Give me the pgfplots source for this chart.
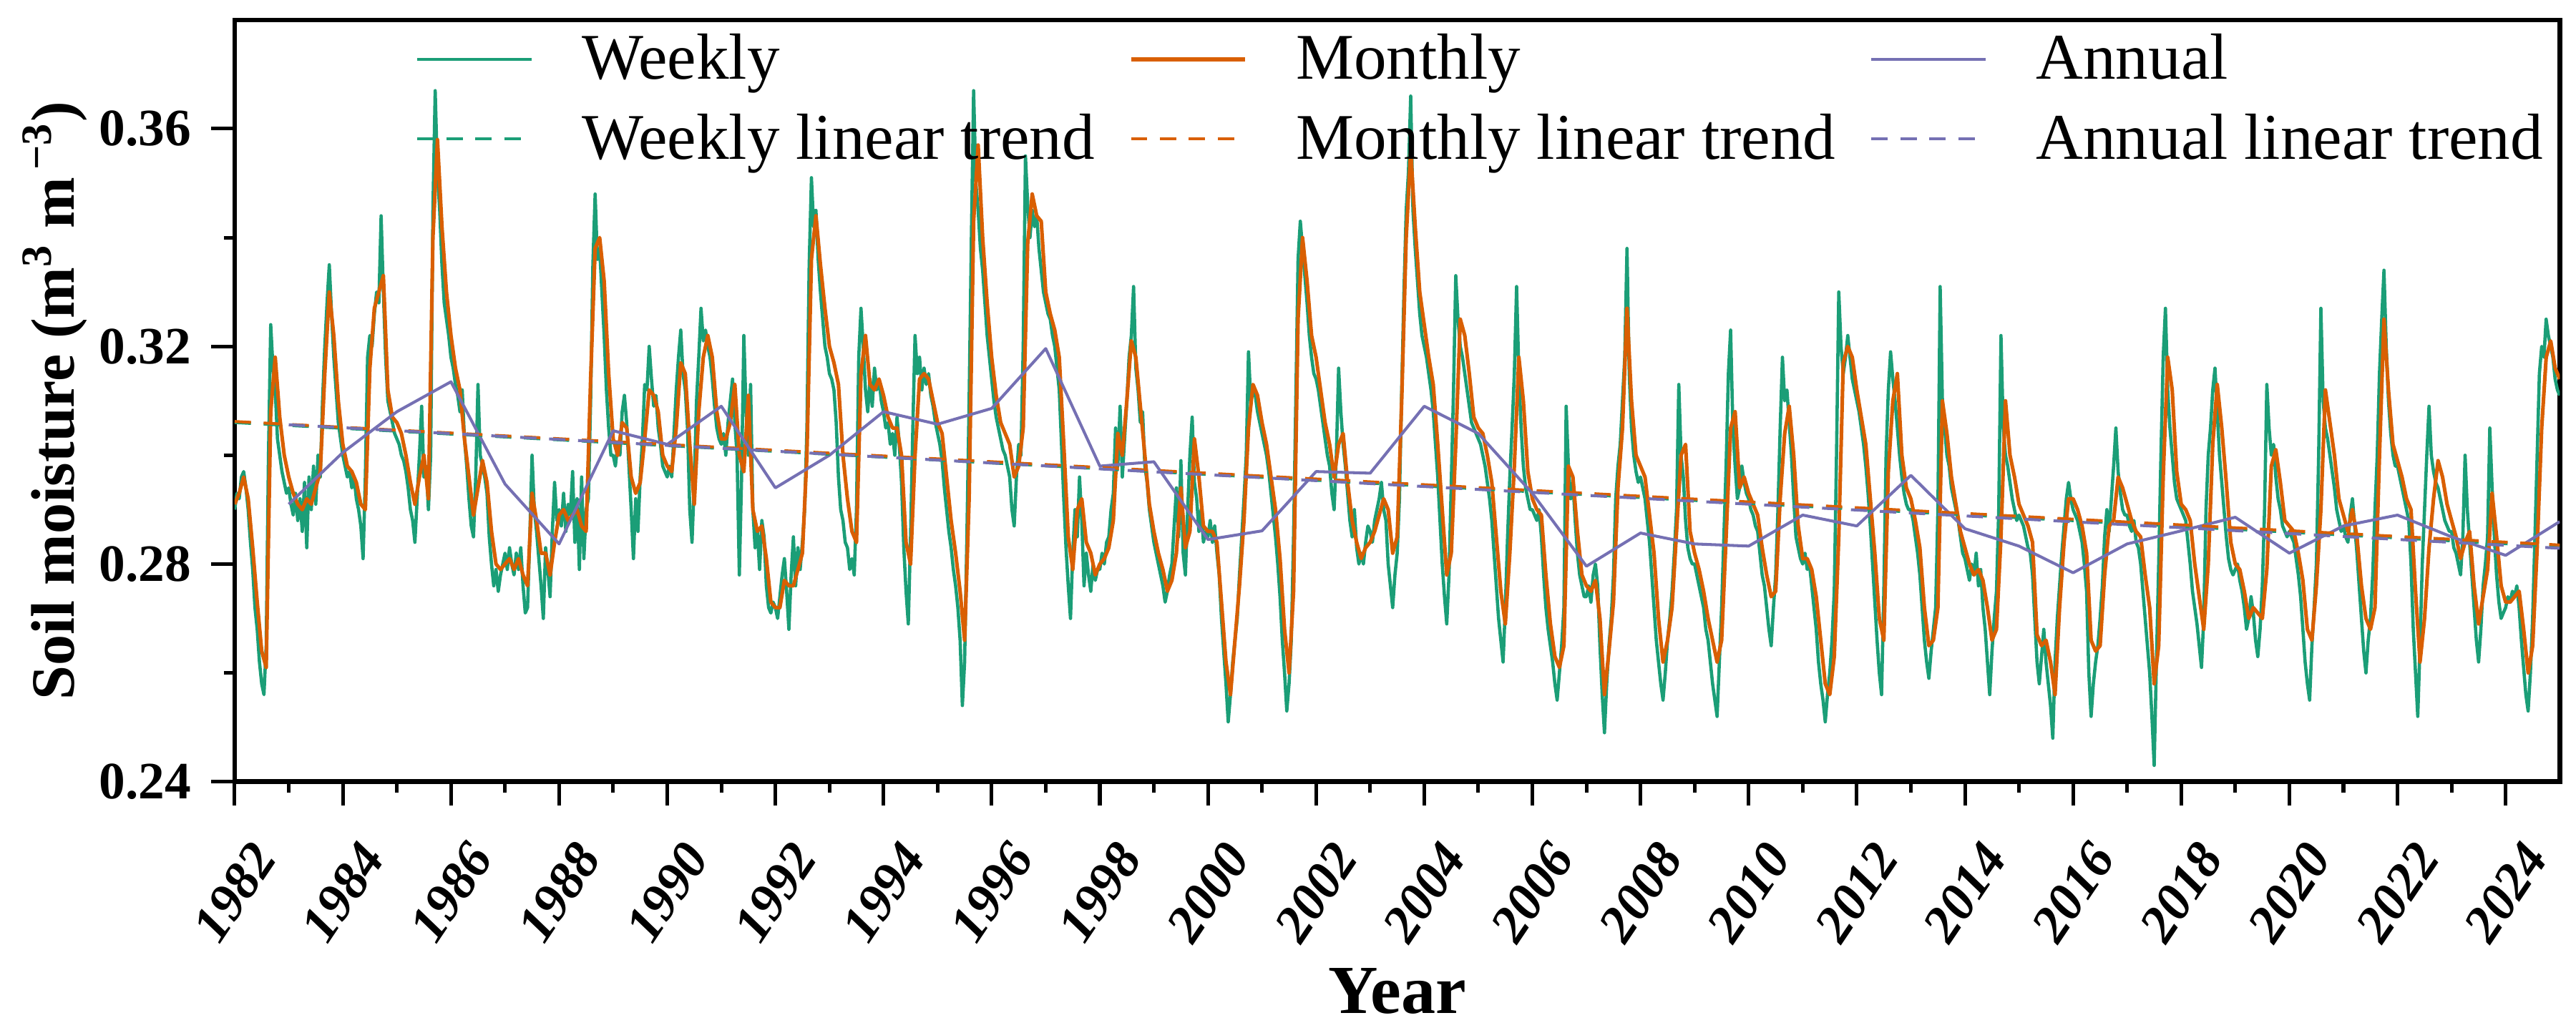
\documentclass[border=0pt]{standalone}
\usepackage{fontspec}
\setmainfont{Liberation Serif}
\usepackage{pgfplots}
\pgfplotsset{compat=1.18}
\usepackage{pgfplotstable}
\definecolor{cW}{HTML}{1B9E77}
\definecolor{cM}{HTML}{D95F02}
\definecolor{cA}{HTML}{7570B3}
\pgfplotsset{legline/.style={legend image code/.code={\draw[##1] (0pt,0pt) -- (31.5pt,0pt);}}}

% weekly series (24 values per year, 1982-2024, plus 2025.0), units of 0.001 m3/m3
\pgfplotstableread[header=false,row sep=\\]{
290\\293\\292\\296\\297\\294\\290\\284\\279\\272\\268\\262\\258\\256\\265\\300\\324\\316\\312\\303\\300\\297\\295\\293\\
294\\291\\289\\293\\288\\292\\286\\295\\283\\296\\290\\298\\291\\300\\296\\310\\320\\328\\335\\326\\318\\312\\306\\303\\
300\\298\\296\\297\\294\\296\\292\\290\\287\\281\\296\\318\\322\\320\\326\\330\\328\\344\\330\\318\\310\\308\\306\\304\\
303\\302\\300\\299\\297\\294\\290\\288\\284\\292\\300\\309\\296\\298\\290\\300\\345\\367\\352\\345\\335\\328\\325\\322\\
318\\316\\313\\311\\308\\312\\303\\298\\292\\287\\285\\296\\313\\300\\298\\296\\293\\285\\280\\276\\279\\275\\278\\280\\
282\\279\\283\\280\\278\\282\\279\\283\\276\\271\\272\\285\\300\\290\\286\\281\\276\\270\\283\\279\\274\\286\\295\\288\\
290\\287\\293\\286\\291\\289\\297\\284\\292\\279\\296\\281\\290\\292\\310\\335\\348\\336\\338\\330\\322\\312\\305\\300\\
300\\298\\302\\300\\308\\311\\306\\298\\290\\281\\292\\286\\296\\303\\313\\312\\320\\314\\309\\311\\305\\302\\298\\297\\
296\\298\\296\\304\\312\\318\\323\\315\\312\\305\\290\\284\\295\\310\\318\\327\\321\\323\\320\\318\\314\\309\\305\\303\\
302\\304\\300\\306\\310\\314\\306\\300\\278\\296\\322\\308\\300\\313\\290\\283\\286\\279\\288\\285\\276\\272\\271\\273\\
272\\270\\274\\278\\281\\275\\268\\278\\285\\276\\283\\279\\284\\290\\305\\335\\351\\342\\345\\336\\330\\325\\320\\318\\
315\\314\\312\\306\\296\\290\\288\\284\\283\\279\\281\\278\\290\\318\\327\\320\\312\\308\\314\\309\\316\\312\\314\\310\\
308\\305\\306\\302\\304\\300\\307\\302\\295\\283\\275\\269\\285\\305\\322\\315\\318\\312\\316\\313\\315\\311\\309\\306\\
304\\302\\299\\294\\290\\286\\283\\279\\276\\272\\266\\254\\262\\285\\310\\340\\367\\350\\345\\338\\334\\328\\322\\318\\
314\\310\\307\\305\\303\\301\\300\\298\\296\\290\\287\\296\\302\\300\\320\\355\\346\\340\\345\\342\\344\\338\\334\\330\\
328\\326\\325\\322\\320\\316\\312\\302\\292\\283\\276\\270\\282\\290\\285\\296\\288\\276\\282\\278\\275\\280\\277\\279\\
279\\282\\280\\284\\285\\290\\293\\305\\298\\309\\296\\303\\310\\318\\322\\331\\316\\312\\306\\308\\298\\295\\290\\287\\
284\\282\\280\\278\\276\\273\\275\\278\\280\\287\\294\\285\\299\\282\\278\\290\\300\\307\\295\\292\\286\\290\\284\\286\\
285\\288\\284\\287\\282\\278\\270\\264\\258\\251\\256\\262\\266\\270\\278\\285\\292\\300\\319\\310\\312\\311\\308\\306\\
304\\302\\300\\297\\293\\289\\285\\280\\274\\266\\260\\253\\258\\266\\285\\310\\336\\343\\338\\333\\328\\322\\318\\315\\
314\\312\\309\\306\\303\\300\\298\\293\\290\\300\\316\\308\\302\\298\\293\\288\\285\\290\\283\\280\\282\\280\\284\\287\\
286\\284\\288\\290\\292\\295\\290\\288\\280\\276\\272\\278\\282\\292\\312\\330\\345\\352\\366\\345\\338\\332\\326\\322\\
320\\318\\315\\312\\308\\302\\296\\288\\280\\274\\269\\278\\295\\312\\333\\325\\320\\318\\315\\312\\309\\306\\305\\304\\
303\\302\\300\\298\\295\\292\\288\\282\\276\\270\\266\\262\\272\\285\\296\\305\\315\\331\\315\\305\\298\\294\\292\\290\\
290\\289\\288\\290\\285\\278\\272\\268\\265\\262\\258\\255\\260\\265\\272\\309\\298\\292\\295\\288\\282\\278\\276\\274\\
274\\276\\273\\278\\280\\276\\265\\256\\249\\258\\265\\270\\278\\292\\298\\302\\310\\318\\338\\315\\305\\300\\297\\295\\
296\\294\\292\\288\\284\\278\\272\\266\\262\\258\\255\\260\\266\\270\\275\\282\\290\\313\\300\\296\\288\\283\\281\\280\\
280\\278\\276\\274\\272\\268\\266\\262\\258\\255\\252\\262\\272\\285\\298\\315\\323\\305\\298\\292\\294\\298\\295\\293\\
292\\290\\289\\287\\286\\282\\278\\276\\272\\268\\265\\272\\278\\290\\305\\318\\310\\312\\306\\300\\292\\285\\283\\281\\
280\\282\\279\\280\\276\\272\\268\\262\\258\\255\\251\\256\\260\\266\\275\\300\\330\\320\\315\\318\\322\\318\\314\\312\\
310\\308\\305\\302\\298\\293\\287\\280\\273\\266\\260\\256\\275\\300\\312\\319\\314\\310\\305\\300\\296\\293\\291\\290\\
290\\288\\285\\282\\278\\272\\266\\262\\259\\264\\268\\272\\290\\331\\310\\305\\300\\298\\294\\292\\290\\288\\285\\282\\
281\\279\\277\\280\\278\\282\\276\\279\\272\\268\\262\\256\\264\\270\\275\\290\\322\\305\\300\\298\\295\\292\\290\\288\\
289\\288\\287\\285\\283\\282\\278\\270\\262\\258\\263\\268\\262\\258\\254\\248\\262\\270\\276\\282\\287\\292\\295\\292\\
290\\289\\288\\286\\284\\280\\275\\260\\252\\258\\262\\265\\270\\276\\285\\290\\286\\292\\298\\305\\297\\293\\290\\289\\
289\\287\\286\\288\\284\\283\\280\\275\\270\\265\\260\\252\\243\\262\\280\\300\\318\\327\\312\\305\\300\\295\\292\\291\\
290\\289\\288\\284\\280\\275\\272\\269\\265\\261\\270\\290\\300\\305\\312\\316\\308\\300\\295\\290\\285\\281\\279\\278\\
279\\280\\277\\275\\272\\268\\270\\274\\271\\266\\263\\268\\276\\290\\313\\305\\300\\302\\296\\292\\290\\287\\286\\285\\
286\\285\\284\\281\\278\\274\\268\\262\\258\\255\\265\\272\\280\\300\\327\\310\\305\\303\\300\\297\\294\\290\\288\\286\\
287\\285\\284\\289\\292\\287\\282\\276\\270\\264\\260\\266\\270\\278\\290\\300\\315\\325\\334\\320\\310\\304\\300\\298\\
298\\296\\294\\292\\290\\288\\280\\268\\260\\252\\265\\280\\290\\300\\309\\300\\297\\295\\294\\292\\290\\288\\287\\286\\
286\\283\\282\\280\\278\\285\\300\\290\\284\\278\\272\\266\\262\\268\\276\\280\\285\\305\\294\\285\\278\\273\\270\\271\\
272\\274\\273\\275\\274\\276\\272\\266\\261\\256\\253\\260\\270\\285\\300\\315\\320\\318\\325\\322\\320\\318\\314\\312\\
311\\
}\weeklytab

% monthly series (12 values per year, 1982-2024, plus 2025.0)
\pgfplotstableread[header=false,row sep=\\]{
291\\293\\296\\292\\283\\273\\264\\261\\308\\318\\307\\300\\
296\\293\\291\\290\\292\\291\\294\\297\\315\\330\\322\\310\\
302\\298\\297\\295\\291\\290\\316\\327\\330\\333\\312\\307\\
306\\304\\300\\295\\291\\296\\300\\292\\340\\358\\342\\330\\
322\\316\\312\\303\\296\\289\\294\\299\\295\\286\\280\\279\\
280\\281\\279\\281\\278\\276\\293\\288\\282\\282\\278\\284\\
289\\290\\288\\289\\290\\287\\286\\314\\338\\340\\332\\315\\
303\\300\\306\\305\\296\\293\\295\\303\\312\\311\\308\\300\\
298\\297\\305\\317\\315\\302\\291\\308\\318\\322\\318\\308\\
303\\303\\306\\313\\300\\297\\311\\290\\286\\287\\281\\273\\
272\\272\\277\\276\\276\\279\\282\\300\\336\\344\\335\\327\\
320\\317\\313\\300\\292\\286\\284\\315\\322\\313\\312\\314\\
311\\307\\305\\305\\300\\284\\280\\300\\314\\315\\314\\310\\
306\\304\\296\\288\\282\\275\\266\\292\\343\\357\\340\\328\\
318\\311\\306\\304\\302\\296\\298\\305\\339\\348\\344\\343\\
330\\326\\323\\318\\302\\285\\279\\290\\292\\284\\282\\278\\
280\\281\\283\\288\\304\\300\\310\\321\\318\\309\\300\\291\\
286\\282\\279\\275\\277\\282\\294\\283\\286\\303\\296\\287\\
286\\286\\284\\273\\262\\256\\266\\276\\288\\305\\313\\311\\
306\\302\\296\\290\\281\\268\\260\\275\\325\\340\\332\\322\\
318\\312\\306\\302\\296\\302\\304\\295\\288\\284\\281\\283\\
284\\286\\289\\292\\290\\282\\285\\310\\340\\356\\342\\330\\
324\\318\\313\\302\\290\\278\\282\\302\\325\\322\\315\\307\\
305\\304\\300\\295\\285\\275\\269\\282\\298\\318\\310\\297\\
292\\290\\289\\278\\269\\263\\261\\265\\298\\296\\286\\278\\
276\\275\\277\\270\\256\\264\\273\\294\\305\\327\\310\\300\\
298\\296\\289\\282\\270\\262\\266\\272\\286\\300\\302\\286\\
282\\279\\275\\270\\266\\262\\266\\285\\305\\308\\294\\296\\
293\\291\\289\\283\\278\\274\\275\\292\\304\\309\\300\\287\\
281\\281\\279\\274\\266\\258\\256\\263\\285\\317\\320\\318\\
312\\307\\302\\292\\282\\270\\266\\297\\310\\315\\300\\294\\
292\\288\\283\\272\\265\\266\\272\\310\\304\\296\\291\\286\\
283\\280\\278\\279\\277\\272\\266\\268\\285\\310\\300\\296\\
291\\289\\287\\284\\267\\265\\266\\262\\256\\272\\284\\292\\
292\\290\\287\\282\\266\\264\\265\\278\\287\\288\\296\\294\\
291\\288\\286\\285\\278\\272\\258\\265\\296\\318\\312\\297\\
291\\290\\288\\280\\274\\268\\280\\302\\313\\305\\295\\284\\
280\\279\\275\\270\\272\\271\\270\\279\\298\\301\\295\\288\\
287\\286\\282\\277\\268\\266\\276\\290\\312\\306\\300\\292\\
289\\286\\290\\285\\276\\270\\268\\272\\300\\325\\312\\302\\
299\\296\\292\\290\\275\\262\\270\\283\\292\\299\\296\\291\\
288\\285\\281\\284\\286\\276\\269\\274\\279\\293\\285\\276\\
273\\273\\274\\275\\268\\260\\265\\283\\305\\318\\321\\316\\
314\\
}\monthlytab

\begin{document}
\begin{tikzpicture}
\useasboundingbox (-64.8pt,-68pt) rectangle (646.5pt,215.9pt);
\begin{axis}[
  scale only axis, width=642pt, height=210.4pt,
  xmin=1982, xmax=2025, ymin=240, ymax=380,
  axis line style={line width=1.3pt},
  xtick={1982,1984,1986,1988,1990,1992,1994,1996,1998,2000,2002,2004,2006,2008,2010,2012,2014,2016,2018,2020,2022,2024},
  xticklabels={1982,1984,1986,1988,1990,1992,1994,1996,1998,2000,2002,2004,2006,2008,2010,2012,2014,2016,2018,2020,2022,2024},
  minor xtick={1983,1985,1987,1989,1991,1993,1995,1997,1999,2001,2003,2005,2007,2009,2011,2013,2015,2017,2019,2021,2023},
  ytick={240,280,320,360}, yticklabels={0.24,0.28,0.32,0.36},
  minor ytick={260,300,340},
  tick align=outside, xtick pos=bottom, ytick pos=left,
  major tick length=6.5pt, minor tick length=3pt,
  every tick/.style={black, line width=1pt},
  /pgf/number format/assume math mode=true,
  yticklabel style={font=\fontsize{14.5}{16}\selectfont\bfseries, anchor=east, inner sep=0pt},
  yticklabel shift=5.3pt,
  xticklabel style={font=\fontsize{14.5}{16}\selectfont\bfseries\itshape, anchor=center, rotate=56, inner sep=0pt},
  xticklabel shift=24pt,
  xlabel={Year},
  every axis x label/.style={at={(axis description cs:0.5,0)}, anchor=base, yshift=-64pt, font=\fontsize{19}{22}\selectfont\bfseries},
  ylabel={Soil moisture (m\textsuperscript{3} m\textsuperscript{\,−3})},
  every axis y label/.style={at={(axis description cs:-0.0692,0.5)}, anchor=base, rotate=90, font=\fontsize{17}{20}\selectfont\bfseries},
  legline,
  legend columns=3,
  legend cell align=left,
  legend style={at={(1,1)}, anchor=north east, xshift=-4.6pt, yshift=-3.9pt,
    draw=none, fill=none, inner sep=0pt, outer sep=0pt,
    font=\fontsize{18}{21}\selectfont, row sep=8pt,
    nodes={inner sep=0pt},
    /tikz/every odd column/.append style={column sep=13.6pt},
    /tikz/every even column/.append style={column sep=9.5pt}},
]
\addplot[cW, line width=0.9pt, line join=round] table[x expr=1982+\coordindex/24, y index=0] {\weeklytab};
\addlegendentry{Weekly}
\addplot[cM, line width=1pt, line join=round] table[x expr=1982+\coordindex/12, y index=0] {\monthlytab};
\addlegendentry{Monthly}
\addplot[cA, line width=0.8pt, line join=round] coordinates {
(1983,291.0)(1984,300.5)(1985,308.0)(1986,313.5)(1987,294.7)(1988,283.7)(1989,304.5)(1990,302.0)(1991,309.0)(1992,294.0)(1993,300.0)(1994,308.0)(1995,305.7)(1996,308.6)(1997,319.6)(1998,298.0)(1999,298.8)(2000,284.5)(2001,286.1)(2002,297.0)(2003,296.7)(2004,309.0)(2005,304.0)(2006,293.0)(2007,279.6)(2008,285.7)(2009,283.7)(2010,283.3)(2011,289.0)(2012,287.0)(2013,296.3)(2014,286.5)(2015,283.3)(2016,278.4)(2017,283.7)(2018,286.1)(2019,288.6)(2020,282.0)(2021,287.0)(2022,289.0)(2023,285.0)(2024,281.6)(2025,287.8)};
\addlegendentry{Annual}
\addplot[cW, line width=0.8pt, dash pattern=on 4.5pt off 3.5pt] coordinates {(1982,306.0)(2025,283.2)};
\addlegendentry{Weekly linear trend}
\addplot[cM, line width=0.8pt, dash pattern=on 4.5pt off 3.5pt] coordinates {(1982,306.2)(2025,283.5)};
\addlegendentry{Monthly linear trend}
\addplot[cA, line width=0.8pt, dash pattern=on 4.5pt off 3.5pt] coordinates {(1983,305.6)(2025,282.9)};
\addlegendentry{Annual linear trend}
\end{axis}
\end{tikzpicture}
\end{document}
